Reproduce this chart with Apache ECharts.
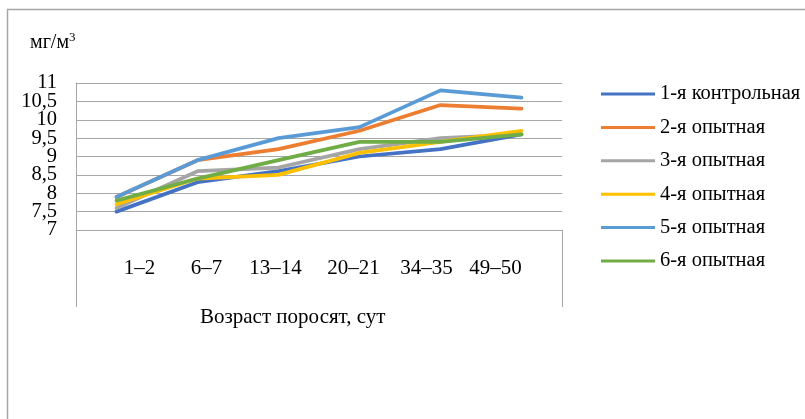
<!DOCTYPE html>
<html>
<head>
<meta charset="utf-8">
<script src="https://cdn.jsdelivr.net/npm/echarts@6/dist/echarts.min.js"></script>
<style>
  html, body { margin: 0; padding: 0; background: #fff; }
  #chart { width: 805px; height: 419px; }
</style>
</head>
<body>
<div id="chart"></div>
<script>
var categories = ['1–2', '6–7', '13–14', '20–21', '34–35', '49–50'];
var seriesNames = ['1-я контрольная', '2-я опытная', '3-я опытная', '4-я опытная', '5-я опытная', '6-я опытная'];
var group1 = [7.5, 8.3, 8.6, 9.0, 9.2, 9.6];
var group2 = [7.9, 8.9, 9.2, 9.7, 10.4, 10.3];
var group3 = [7.6, 8.6, 8.7, 9.2, 9.5, 9.6];
var group4 = [7.7, 8.4, 8.5, 9.1, 9.4, 9.7];
var group5 = [7.9, 8.9, 9.5, 9.8, 10.8, 10.6];
var group6 = [7.8, 8.4, 8.9, 9.4, 9.4, 9.6];
var yMin = 7, yMax = 11;
var colors = ['#4472C4', '#ED7D31', '#A5A5A5', '#FFC000', '#5B9BD5', '#70AD47'];

var font = '"Liberation Serif", "Times New Roman", serif';
var allData = [group1, group2, group3, group4, group5, group6];

// excel put the category labels a bit off their points
var labelShift = [23, 9, -3, -6, -14, -26];
var rich = {};
labelShift.forEach(function (d, i) {
    rich['c' + i] = {
        fontFamily: font, fontSize: 21, color: '#000',
        padding: d >= 0 ? [0, 0, 0, 2 * d] : [0, -2 * d, 0, 0]
    };
});

var yLabel = { margin: 19, fontFamily: font, fontSize: 20.5, color: '#000' };

var myChart = echarts.init(document.getElementById('chart'));
var option = {
    animation: false,
    color: colors,
    grid: { left: 76, right: 243, top: 83, bottom: 189 },
    legend: {
        orient: 'vertical',
        left: 596,
        top: 78,
        icon: 'rect',
        itemWidth: 54,
        itemHeight: 3,
        itemGap: 11.4,
        textStyle: { fontFamily: font, fontSize: 20.5, color: '#000', lineHeight: 22 },
        data: seriesNames
    },
    xAxis: {
        type: 'category',
        data: categories,
        boundaryGap: true,
        axisLine: { lineStyle: { color: '#A6A6A6', width: 1 } },
        axisTick: { show: false },
        axisLabel: {
            margin: 28,
            interval: 0,
            formatter: function (v, i) { return '{c' + i + '|' + v + '}'; },
            rich: rich
        }
    },
    yAxis: [
        {
            type: 'value',
            min: yMin,
            max: yMax,
            interval: 0.5,
            axisLine: { show: true, lineStyle: { color: '#A6A6A6', width: 1 } },
            axisTick: { show: false },
            splitLine: { lineStyle: { color: '#A6A6A6', width: 1 } },
            axisLabel: Object.assign({}, yLabel, {
                showMinLabel: false,
                showMaxLabel: false,
                formatter: function (v) { return String(v).replace('.', ','); }
            })
        },
        {
            // second axis only carries the end labels (7 and 11), which ECharts drops when crowded
            type: 'value',
            position: 'left',
            min: yMin,
            max: yMax,
            interval: 1,
            axisLine: { show: false },
            axisTick: { show: false },
            splitLine: { show: false },
            axisLabel: Object.assign({}, yLabel, {
                showMinLabel: true,
                showMaxLabel: true,
                formatter: function (v) { return (v === yMin || v === yMax) ? String(v) : ''; }
            })
        }
    ],
    graphic: [
        { type: 'rect', shape: { x: 7.5, y: 9.5, width: 900, height: 500 },
          style: { fill: 'none', stroke: '#A6A6A6', lineWidth: 1.5 }, silent: true },
        { type: 'line', shape: { x1: 76.5, y1: 230, x2: 76.5, y2: 307 },
          style: { stroke: '#A6A6A6', lineWidth: 1 } },
        { type: 'line', shape: { x1: 562.5, y1: 230, x2: 562.5, y2: 307 },
          style: { stroke: '#A6A6A6', lineWidth: 1 } },
        { type: 'text', left: 30, top: 31,
          style: { text: '{a|мг/м}{s|3}', rich: {
              a: { fontFamily: font, fontSize: 20, fill: '#000', verticalAlign: 'bottom' },
              s: { fontFamily: font, fontSize: 13, fill: '#000', verticalAlign: 'top', padding: [0, 0, 9, 0] }
          } } },
        { type: 'text', left: 200, top: 307,
          style: { text: 'Возраст поросят, сут', fontFamily: font, fontSize: 21, fill: '#000' } }
    ],
    series: seriesNames.map(function (name, i) {
        return {
            name: name,
            type: 'line',
            yAxisIndex: 0,
            data: allData[i],
            symbol: 'none',
            lineStyle: { width: 3.75, color: colors[i], cap: 'round' },
            itemStyle: { color: colors[i] }
        };
    })
};
myChart.setOption(option);
</script>
</body>
</html>
